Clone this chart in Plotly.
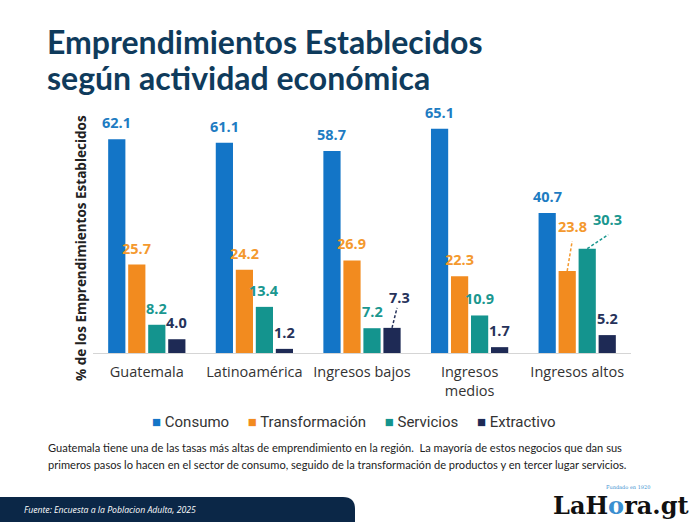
import plotly.graph_objects as go

categories = ["Guatemala", "Latinoamérica", "Ingresos bajos", "Ingresos<br>medios", "Ingresos altos"]
series_names = ["Consumo", "Transformación", "Servicios", "Extractivo"]
consumo = [62.1, 61.1, 58.7, 65.1, 40.7]
transformacion = [25.7, 24.2, 26.9, 22.3, 23.8]
servicios = [8.2, 13.4, 7.2, 10.9, 30.3]
extractivo = [4.0, 1.2, 7.3, 1.7, 5.2]
values = [consumo, transformacion, servicios, extractivo]

bar_colors = ["#1375C7", "#F28B1F", "#14948E", "#1E2A55"]
label_colors = ["#1E7CC2", "#F4992E", "#1A978F", "#26325A"]

# label displacements for crowded labels: (series, category) -> (xshift, yshift, line dx, line dy)
callouts = {
    (3, 2): (7, 19, 5, 20),
    (1, 4): (5, 33, 5, 30),
    (2, 4): (20, 18, 21, 14),
}

# page geometry (pixels)
PW, PH = 696, 522
L, R, T, B = 93, 631, 112, 353
W, H = R - L, B - T
def px2x(px):
    return (px - L) / W
def py2y(py):
    return (B - py) / H

BARGAP = 0.256
BARGROUPGAP = 0.14

fig = go.Figure()
for k, (name, vals) in enumerate(zip(series_names, values)):
    fig.add_trace(go.Bar(
        x=categories, y=vals, name=name,
        marker=dict(color=bar_colors[k], line=dict(width=0)),
        hoverinfo="x+y+name",
    ))

slot = (1 - BARGAP) / 4
annotations = []
shapes = []
for k, vals in enumerate(values):
    for i, v in enumerate(vals):
        xc = i + (k - 1.5) * slot
        xs, ys = 0, 5
        if (k, i) in callouts:
            xs, ys, ldx, ldy = callouts[(k, i)]
            shapes.append(dict(
                type="line", xref="x", yref="y",
                xsizemode="pixel", ysizemode="pixel",
                xanchor=xc, yanchor=v,
                x0=0, y0=0, x1=ldx, y1=ldy,
                line=dict(color=label_colors[k], width=1.5, dash="3px,2px"),
            ))
        annotations.append(dict(
            x=xc, y=v, xref="x", yref="y", text=f"{v:.1f}",
            showarrow=False, xanchor="center", yanchor="bottom",
            xshift=xs, yshift=ys,
            font=dict(family="Open Sans", size=14.5, color=label_colors[k], weight="bold"),
        ))

# title (two lines, tight leading)
title_lines = ["Emprendimientos Establecidos", "según actividad económica"]
for j, line in enumerate(title_lines):
    annotations.append(dict(
        x=px2x(45), y=py2y(42 + 35 * j), xref="paper", yref="paper",
        xanchor="left", yanchor="middle", align="left",
        text=line, showarrow=False,
        font=dict(family="Lato", size=32, color="#0F3B5C", weight="bold"),
    ))
# y axis title
annotations.append(dict(
    x=px2x(81), y=py2y(248), xref="paper", yref="paper",
    xanchor="center", yanchor="middle", textangle=-90,
    text="% de los Emprendimientos Establecidos", showarrow=False,
    font=dict(family="Open Sans", size=13.5, color="#222222", weight="bold"),
))
# legend (text based)
legend_text = "     ".join(
    f"<span style='color:{c}'>■</span> {n}" for c, n in zip(bar_colors, series_names)
)
annotations.append(dict(
    x=px2x(354), y=py2y(422), xref="paper", yref="paper",
    xanchor="center", yanchor="middle",
    text=legend_text, showarrow=False,
    font=dict(family="Roboto", size=15, color="#333333"),
))
# caption
caption_lines = [
    "Guatemala tiene una de las tasas más altas de emprendimiento en la región.  La mayoría de estos negocios que dan sus",
    "primeros pasos lo hacen en el sector de consumo, seguido de la transformación de productos y en tercer lugar servicios.",
]
for j, line in enumerate(caption_lines):
    annotations.append(dict(
        x=px2x(46), y=py2y(447 + 17 * j), xref="paper", yref="paper",
        xanchor="left", yanchor="middle", align="left",
        text=line, showarrow=False,
        font=dict(family="Lato", size=11.1, color="#222222"),
    ))
# footer text
annotations.append(dict(
    x=px2x(22), y=py2y(510), xref="paper", yref="paper",
    xanchor="left", yanchor="middle",
    text="<i>Fuente: Encuesta a la Poblacion Adulta, 2025</i>", showarrow=False,
    font=dict(family="Open Sans", size=8.7, color="#FFFFFF"),
))
# logo
annotations.append(dict(
    x=px2x(691), y=py2y(505), xref="paper", yref="paper",
    xanchor="right", yanchor="middle",
    text="LaH<span style='color:#3A8FD0'>o</span>ra.gt", showarrow=False,
    font=dict(family="DejaVu Serif", size=24, color="#111111", weight="bold"),
))
annotations.append(dict(
    x=px2x(628), y=py2y(487), xref="paper", yref="paper",
    xanchor="center", yanchor="middle",
    text="Fundado en 1920", showarrow=False,
    font=dict(family="DejaVu Serif", size=5, color="#3A8FD0"),
))

# footer band with rounded top-right corner
x0, x1 = px2x(0), px2x(355)
y0, y1 = py2y(522), py2y(497)
rx, ry = 12 / W, 12 / H
path = (f"M {x0},{y0} L {x0},{y1} L {x1 - rx},{y1} "
        f"Q {x1},{y1} {x1},{y1 - ry} L {x1},{y0} Z")
shapes.append(dict(type="path", xref="paper", yref="paper", path=path,
                   fillcolor="#0B2747", line=dict(width=0), layer="below"))

fig.update_layout(
    width=PW, height=PH,
    margin=dict(l=L, r=PW - R, t=T, b=PH - B, pad=0),
    paper_bgcolor="white", plot_bgcolor="white",
    barmode="group", bargap=BARGAP, bargroupgap=BARGROUPGAP,
    showlegend=False,
    xaxis=dict(
        showline=True, linecolor="#D5D5D5", linewidth=1,
        ticks="outside", ticklen=6, tickcolor="rgba(0,0,0,0)", showgrid=False, zeroline=False,
        tickfont=dict(family="Open Sans", size=14.5, color="#333333"),
    ),
    yaxis=dict(range=[0, 70], visible=False, showgrid=False, zeroline=False),
    annotations=annotations,
    shapes=shapes,
)

fig.write_html("out.html")
